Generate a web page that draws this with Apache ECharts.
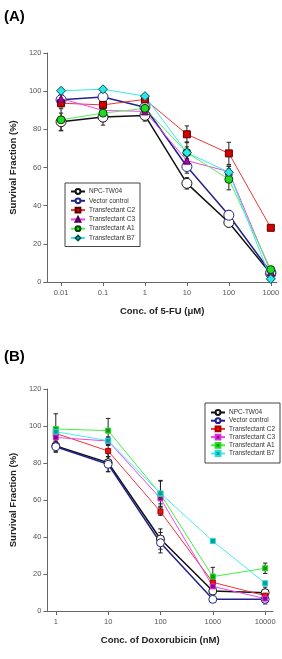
<!DOCTYPE html>
<html>
<head>
<meta charset="utf-8">
<script src="https://cdn.jsdelivr.net/npm/echarts@6/dist/echarts.min.js"></script>
<style>
  html, body { margin: 0; padding: 0; background: #fff; }
  #chartA { position: absolute; left: 0; top: 0; width: 282px; height: 330px; }
  #chartB { position: absolute; left: 0; top: 330px; width: 282px; height: 329px; }
</style>
</head>
<body>
<div id="chartA"></div>
<div id="chartB"></div>
<script>
// panel A: 5-FU
var concA = [0.01, 0.1, 1, 10, 100, 1000];
var labelsA = ["0.01", "0.1", "1", "10", "100", "1000"];
var npcA = [84.0, 86.4, 87.3, 51.7, 31.2, 4.4];
var vecA = [95.5, 96.9, 91.6, 60.5, 35.0, 5.0];
var c2A = [93.7, 92.8, 95.7, 77.4, 67.4, 28.4];
var c3A = [96.1, 89.9, 89.4, 63.6, 57.8, 5.2];
var a1A = [85.0, 88.5, 91.0, 67.8, 53.8, 6.5];
var b7A = [100.2, 101.0, 97.4, 67.8, 57.5, 1.6];
var npcAErr = [4.5, 4.2, 3.0, 3.0, 2.0, 1.0];
var vecAErr = [2.0, 2.0, 2.0, 3.5, 2.5, 1.0];
var c2AErr = [2.0, 2.0, 1.5, 4.4, 5.8, 0];
var c3AErr = [2.0, 2.0, 2.0, 3.0, 3.0, 1.0];
var a1AErr = [5.8, 3.0, 2.0, 5.6, 5.5, 1.0];
var b7AErr = [1.0, 1.0, 1.0, 3.0, 3.0, 0.5];

// panel B: doxorubicin
var concB = [1, 10, 100, 1000, 10000];
var labelsB = ["1", "10", "100", "1000", "10000"];
var npcB = [89.2, 80.2, 38.9, 10.8, 9.9];
var vecB = [88.8, 79.3, 36.9, 6.3, 6.3];
var c2B = [96.0, 86.5, 53.7, 15.5, 8.3];
var c3B = [93.8, 91.9, 60.9, 13.3, 6.7];
var a1B = [98.4, 97.5, 63.2, 18.6, 23.1];
var b7B = [96.9, 92.1, 63.6, 37.8, 15.0];
var npcBErr = [3.4, 4.9, 5.5, 2.0, 3.0];
var vecBErr = [2.5, 4.0, 5.5, 1.5, 2.5];
var c2BErr = [2.0, 3.0, 2.0, 2.0, 1.5];
var c3BErr = [2.0, 2.0, 3.0, 2.0, 1.5];
var a1BErr = [8.2, 6.6, 7.0, 5.0, 2.8];
var b7BErr = [2.0, 2.0, 7.0, 1.0, 1.0];

var names = ["NPC-TW04", "Vector control", "Transfectant C2", "Transfectant C3", "Transfectant A1", "Transfectant B7"];
var font = "Liberation Sans, Arial, sans-serif";

function lg(c) {
  return Math.round(Math.log10(c) * 1000) / 1000;
}

function errSeries(conc, vals, errs, color) {
  return {
    type: "custom",
    silent: true,
    z: 1,
    data: conc.map(function (c, i) { return [lg(c), vals[i], errs[i]]; }),
    encode: { x: 0, y: 1 },
    renderItem: function (params, api) {
      var x = api.value(0), y = api.value(1), e = api.value(2);
      if (!e) return null;
      var top = api.coord([x, y + e]);
      var bot = api.coord([x, y - e]);
      var w = 2.2;
      var st = { stroke: color, lineWidth: 1 };
      return {
        type: "group",
        children: [
          { type: "line", shape: { x1: top[0], y1: top[1], x2: bot[0], y2: bot[1] }, style: st },
          { type: "line", shape: { x1: top[0] - w, y1: top[1], x2: top[0] + w, y2: top[1] }, style: st },
          { type: "line", shape: { x1: bot[0] - w, y1: bot[1], x2: bot[0] + w, y2: bot[1] }, style: st }
        ]
      };
    }
  };
}

function lineSeries(name, conc, vals, lineColor, lineWidth, symbol, size, fill, border) {
  return {
    name: name,
    type: "line",
    z: 3,
    data: conc.map(function (c, i) { return [lg(c), vals[i]]; }),
    symbol: symbol,
    symbolSize: size,
    showAllSymbol: true,
    lineStyle: { color: lineColor, width: lineWidth },
    itemStyle: { color: fill, borderColor: border, borderWidth: 1 },
    emphasis: { disabled: true },
    animation: false
  };
}

function baseOption(cfg) {
  return {
    animation: false,
    textStyle: { fontFamily: font },
    title: {
      text: cfg.panel,
      left: -1,
      top: cfg.titleTop,
      textStyle: { fontFamily: font, fontSize: 15, fontWeight: "bold", color: "#000" }
    },
    grid: cfg.grid,
    legend: Object.assign({
      orient: "vertical",
      data: names,
      itemWidth: 14,
      itemHeight: 6,
      borderColor: "#444",
      borderWidth: 1,
      backgroundColor: "#fff",
      selectedMode: false,
      textStyle: { fontFamily: font, fontSize: 6.5, color: "#333", padding: [0, 0, 0, -1] }
    }, cfg.legend),
    xAxis: {
      type: "value",
      min: cfg.xMin,
      max: cfg.xMax,
      name: cfg.xName,
      nameLocation: "middle",
      nameGap: 24,
      nameTextStyle: { fontFamily: font, fontSize: 9.5, fontWeight: "bold", color: "#222" },
      axisLine: { show: true, onZero: false, lineStyle: { color: "#666", width: 1 } },
      axisTick: { show: true, length: 4, customValues: cfg.tickPos, lineStyle: { color: "#666" } },
      axisLabel: {
        customValues: cfg.tickPos,
        margin: 7,
        fontSize: 7.5,
        color: "#555",
        formatter: function (v) {
          var i = cfg.tickPos.indexOf(Math.round(v));
          return i >= 0 ? cfg.labels[i] : "";
        }
      },
      splitLine: { show: false }
    },
    yAxis: {
      type: "value",
      min: 0,
      max: 120,
      interval: 20,
      name: "Survival Fraction (%)",
      nameLocation: "middle",
      nameGap: 29,
      nameTextStyle: { fontFamily: font, fontSize: 9.5, fontWeight: "bold", color: "#222" },
      axisLine: { show: true, onZero: false, lineStyle: { color: "#666", width: 1 } },
      axisTick: { show: true, length: 4, lineStyle: { color: "#666" } },
      axisLabel: { margin: 6, fontSize: 7.5, color: "#555" },
      splitLine: { show: false }
    },
    series: cfg.series
  };
}

var chartA = echarts.init(document.getElementById("chartA"));
chartA.setOption(baseOption({
  panel: "(A)",
  titleTop: 4,
  grid: { left: 42, top: 53, width: 236, height: 229 },
  legend: { left: 65, top: 183, width: 74, padding: [5, 5, 5, 5], itemGap: 2.3 },
  xMin: -2.325,
  xMax: 3.146,
  xName: "Conc. of 5-FU (\u03bcM)",
  tickPos: concA.map(lg),
  labels: labelsA,
  series: [
    errSeries(concA, npcA, npcAErr, "#222"),
    errSeries(concA, vecA, vecAErr, "#222"),
    errSeries(concA, c2A, c2AErr, "#222"),
    errSeries(concA, c3A, c3AErr, "#222"),
    errSeries(concA, a1A, a1AErr, "#222"),
    errSeries(concA, b7A, b7AErr, "#222"),
    lineSeries(names[0], concA, npcA, "#111", 1.5, "circle", 10, "#fff", "#111"),
    lineSeries(names[1], concA, vecA, "#22228c", 1.5, "circle", 10, "#fff", "#22228c"),
    lineSeries(names[2], concA, c2A, "#ee3333", 1, "rect", 7, "#d40000", "#5a0000"),
    lineSeries(names[3], concA, c3A, "#ee44ee", 1, "triangle", 7, "#b000b0", "#500050"),
    lineSeries(names[4], concA, a1A, "#55ee55", 1, "circle", 8, "#22d822", "#004400"),
    lineSeries(names[5], concA, b7A, "#33eaea", 1, "diamond", 9, "#2ee6e6", "#005555")
  ]
}));

var chartB = echarts.init(document.getElementById("chartB"));
chartB.setOption(baseOption({
  panel: "(B)",
  titleTop: 14,
  grid: { left: 42, top: 59, width: 231, height: 222 },
  legend: { left: 205, top: 73, width: 74, padding: [6, 5, 6, 5], itemGap: 1.2 },
  xMin: -0.16,
  xMax: 4.15,
  xName: "Conc. of Doxorubicin (nM)",
  tickPos: concB.map(lg),
  labels: labelsB,
  series: [
    errSeries(concB, npcB, npcBErr, "#222"),
    errSeries(concB, vecB, vecBErr, "#222"),
    errSeries(concB, c2B, c2BErr, "#222"),
    errSeries(concB, c3B, c3BErr, "#222"),
    errSeries(concB, a1B, a1BErr, "#222"),
    errSeries(concB, b7B, b7BErr, "#222"),
    lineSeries(names[0], concB, npcB, "#111", 1.5, "circle", 8, "#fff", "#111"),
    lineSeries(names[1], concB, vecB, "#22228c", 1.5, "circle", 8, "#fff", "#22228c"),
    lineSeries(names[2], concB, c2B, "#ee3333", 1, "rect", 5, "#ee1111", "#aa0000"),
    lineSeries(names[3], concB, c3B, "#ee44ee", 1, "rect", 5, "#8a008a", "#dd33dd"),
    lineSeries(names[4], concB, a1B, "#44ee44", 1, "rect", 5, "#119911", "#22dd22"),
    lineSeries(names[5], concB, b7B, "#44eeee", 1, "rect", 5, "#119999", "#22dddd")
  ]
}));
</script>
</body>
</html>
